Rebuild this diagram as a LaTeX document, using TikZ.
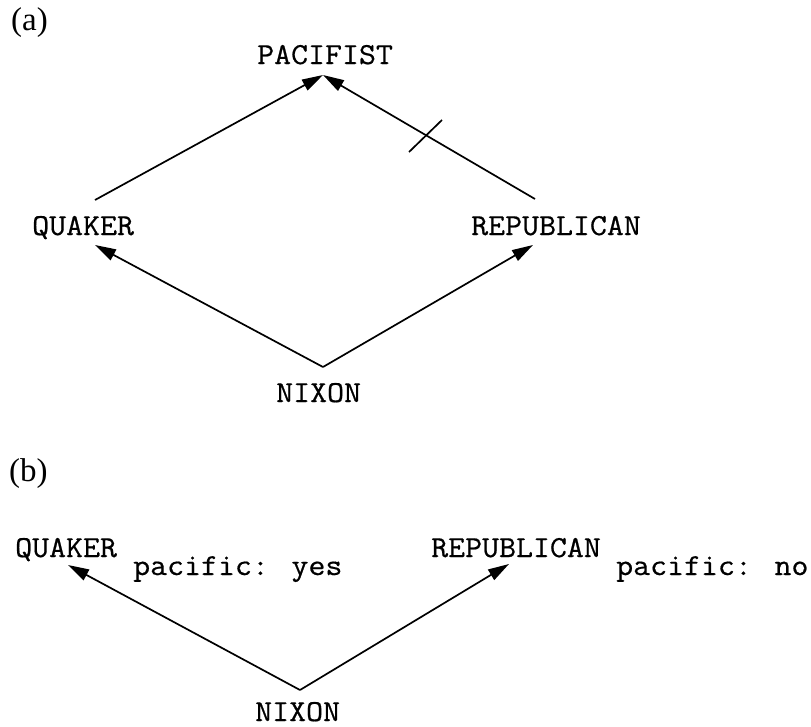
\documentclass[tikz,border=0pt]{standalone}
\usepackage{fontspec}
\setmainfont{Liberation Serif}
\newfontfamily\monofam{Latin Modern Mono}[FakeStretch=1.08,FakeBold=0.6]
\usetikzlibrary{arrows.meta}
\begin{document}
\begin{tikzpicture}[x=1pt,y=-1pt,
  lbl/.style={font=\monofam\fontsize{30.5}{34}\selectfont, inner sep=0pt, anchor=base west},
  tag/.style={font=\fontsize{33}{38}\selectfont, inner sep=0pt, anchor=base west},
  arr/.style={line width=1.7pt, -{Triangle[length=21pt,width=12pt]}},
  ln/.style={line width=1.7pt}]
\useasboundingbox (0,0) rectangle (811,726);
% ---------- (a) ----------
\node[tag] (la) at (11,30) {(a)};
\node[lbl] (pac) at (257,64) {PACIFIST};
\node[lbl] (qa) at (32,235) {QUAKER};
\node[lbl] (ra) at (471,235) {REPUBLICAN};
\node[lbl] (na) at (276,402) {NIXON};
\coordinate (pacin) at (323,75);
\coordinate (qaout) at (95,200);
\coordinate (raout) at (535,199);
\coordinate (qain) at (95,245);
\coordinate (rain) at (533,245);
\coordinate (naout) at (323,367);
\coordinate (tickA) at (409,152);
\coordinate (tickB) at (442,120);
\draw[arr] (qaout) -- (pacin);
\draw[arr] (raout) -- (pacin);
\draw[ln] (tickA) -- (tickB);
\draw[arr] (naout) -- (qain);
\draw[arr] (naout) -- (rain);
% ---------- (b) ----------
\node[tag] (lb) at (9,481) {(b)};
\node[lbl] (qb) at (15,557) {QUAKER};
\node[lbl] (yes) at (133,575) {pacific: yes};
\node[lbl] (rb) at (431,557) {REPUBLICAN};
\node[lbl] (no) at (616,575) {pacific: no};
\node[lbl] (nb) at (255,721) {NIXON};
\coordinate (qbin) at (68,565);
\coordinate (rbin) at (509,564);
\coordinate (nbout) at (300,690);
\draw[arr] (nbout) -- (qbin);
\draw[arr] (nbout) -- (rbin);
\end{tikzpicture}
\end{document}
